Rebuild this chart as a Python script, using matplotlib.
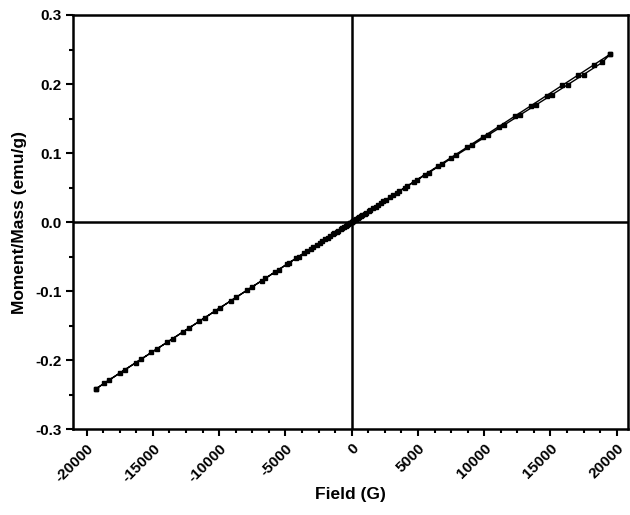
import matplotlib.pyplot as plt
from matplotlib.ticker import MultipleLocator

plt.rcParams['font.family'] = ['Liberation Sans', 'DejaVu Sans']
plt.rcParams['axes.unicode_minus'] = False

# field sweep down from +19.5 kG to -19.25 kG
field_down = [19500, 18300, 17100, 15900, 14700, 13500, 12300, 11100, 9900, 8700,
              7500, 6500, 5500, 4700, 4000, 3400, 2900, 2400, 2000, 1600,
              1300, 1000, 700, 450, 250, 100, 0, -100, -250, -450,
              -700, -1000, -1300, -1600, -2000, -2400, -2900, -3400, -4000, -4700,
              -5500, -6500, -7500, -8700, -9900, -11100, -12300, -13500, -14700, -15900,
              -17100, -18300, -19250]
moment_down = [0.2432, 0.2282, 0.2132, 0.1983, 0.1833, 0.1683, 0.1534, 0.1384, 0.1235, 0.1085,
               0.0935, 0.0811, 0.0686, 0.0586, 0.0499, 0.0424, 0.0362, 0.0299, 0.0249, 0.0200,
               0.0162, 0.0125, 0.0087, 0.0056, 0.0031, 0.0012, 0.0000, -0.0012, -0.0031, -0.0056,
               -0.0087, -0.0125, -0.0162, -0.0200, -0.0249, -0.0299, -0.0362, -0.0424, -0.0500, -0.0587,
               -0.0688, -0.0813, -0.0938, -0.1088, -0.1238, -0.1388, -0.1538, -0.1688, -0.1838, -0.1988,
               -0.2138, -0.2288, -0.2410]

# field sweep back up to +19.5 kG
field_up = [-19250, -18700, -17500, -16300, -15100, -13900, -12700, -11500, -10300, -9100,
            -7900, -6800, -5800, -4900, -4200, -3600, -3100, -2600, -2200, -1800,
            -1400, -1100, -800, -550, -350, -150, 50, 200, 350, 550,
            800, 1100, 1400, 1800, 2200, 2600, 3100, 3600, 4200, 4900,
            5800, 6800, 7900, 9100, 10300, 11500, 12700, 13900, 15100, 16300,
            17500, 18900, 19500]
moment_up = [-0.2410, -0.2336, -0.2186, -0.2036, -0.1886, -0.1736, -0.1586, -0.1436, -0.1286, -0.1136,
             -0.0986, -0.0849, -0.0724, -0.0611, -0.0524, -0.0449, -0.0387, -0.0324, -0.0274, -0.0224,
             -0.0175, -0.0137, -0.0100, -0.0069, -0.0044, -0.0019, 0.0006, 0.0025, 0.0044, 0.0069,
             0.0100, 0.0137, 0.0175, 0.0224, 0.0274, 0.0324, 0.0387, 0.0449, 0.0521, 0.0605,
             0.0714, 0.0836, 0.0969, 0.1115, 0.1260, 0.1406, 0.1552, 0.1697, 0.1843, 0.1991,
             0.2138, 0.2312, 0.2432]

fig = plt.figure(figsize=(6.3, 5.15), dpi=100)
ax = fig.add_axes([0.1163, 0.1664, 0.8806, 0.8045])

ax.axhline(0, color='black', lw=1.8, zorder=1)
ax.axvline(0, color='black', lw=1.8, zorder=1)

ax.plot(field_down + field_up, moment_down + moment_up, color='black', lw=1.0,
        marker='s', markersize=3.5, zorder=3)

ax.set_xlim(-21000, 20850)
ax.set_ylim(-0.3, 0.3)
ax.xaxis.set_major_locator(MultipleLocator(5000))
ax.xaxis.set_minor_locator(MultipleLocator(1250))
ax.yaxis.set_major_locator(MultipleLocator(0.1))
ax.yaxis.set_minor_locator(MultipleLocator(0.05))
ax.yaxis.set_major_formatter(plt.FuncFormatter(lambda v, p: f'{v:.1f}'))

for s in ax.spines.values():
    s.set_linewidth(1.8)
ax.tick_params(which='major', direction='out', length=5, width=1.5, labelsize=11)
ax.tick_params(which='minor', direction='out', length=3, width=1.5)
for lab in ax.get_xticklabels():
    lab.set_rotation(45)
    lab.set_ha('right')
    lab.set_rotation_mode('anchor')
for lab in ax.get_xticklabels() + ax.get_yticklabels():
    lab.set_fontweight('bold')

ax.set_xlabel('Field (G)', fontsize=12.5, fontweight='bold', labelpad=2)
ax.set_ylabel('Moment/Mass (emu/g)', fontsize=12.5, fontweight='bold', labelpad=6)

fig.savefig('out.png', dpi=100)
